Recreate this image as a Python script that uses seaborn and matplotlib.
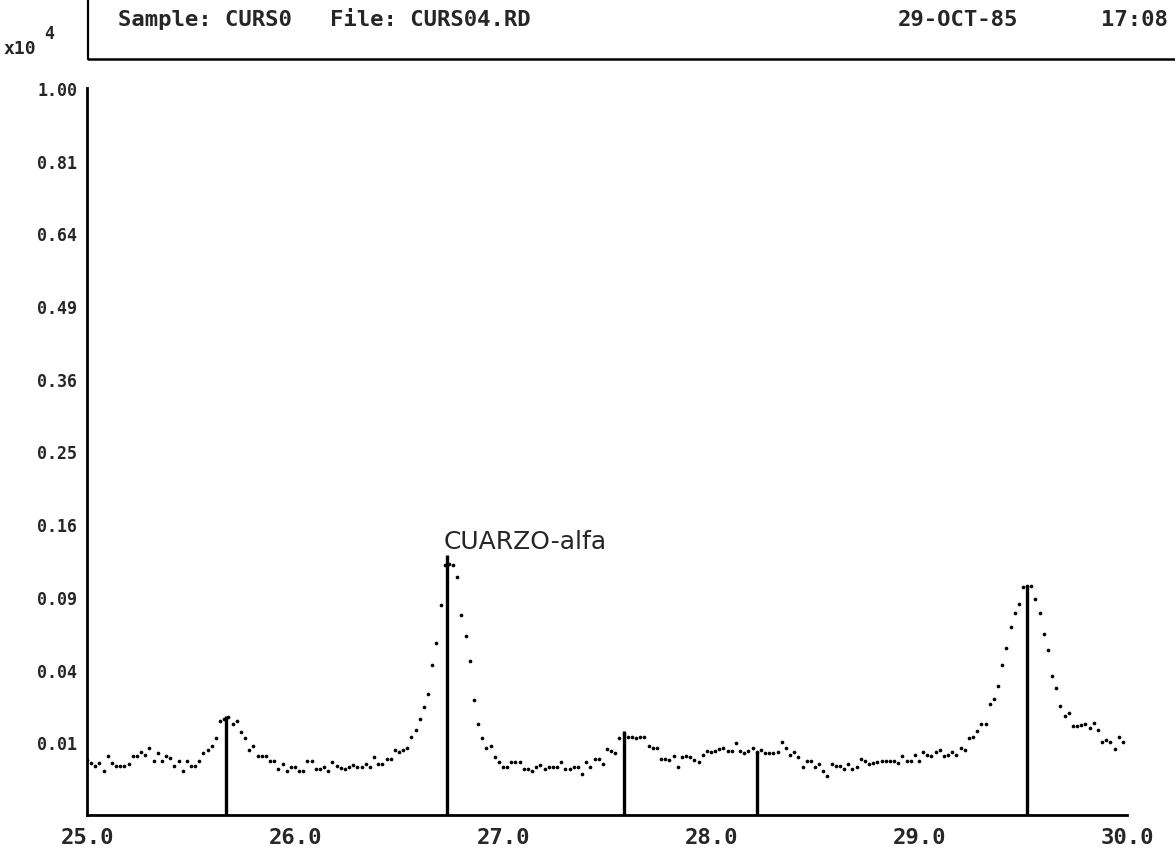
import numpy as np
import seaborn as sns
import matplotlib.pyplot as plt
from matplotlib.lines import Line2D

# Scan: 2-theta from 25.00 in 0.02 steps, counts
two_theta = np.round(25.0 + 0.02 * np.arange(250), 2)
counts = [
    57, 51, 45, 51, 37, 66, 51, 45, 45, 45, 49, 66, 66, 75, 68, 85, 55, 73, 55, 66,
    61, 45, 55, 37, 55, 45, 45, 55, 73, 80, 90, 112, 167, 175, 182, 157, 167, 130, 112, 80,
    90, 66, 66, 66, 55, 55, 40, 49, 37, 44, 44, 37, 37, 55, 55, 40, 40, 44, 37, 53,
    45, 42, 40, 44, 47, 44, 44, 49, 44, 64, 49, 49, 59, 59, 80, 75, 80, 85, 115, 137,
    174, 221, 277, 426, 560, 834, 1183, 1190, 1183, 1072, 757, 606, 449, 250, 157, 112, 85, 90, 64, 53,
    44, 44, 53, 53, 53, 40, 40, 37, 44, 47, 40, 44, 44, 44, 53, 40, 40, 44, 44, 32,
    53, 44, 59, 59, 49, 82, 78, 73, 112, 125, 115, 115, 112, 115, 115, 90, 85, 85, 59, 59,
    57, 66, 44, 64, 66, 64, 57, 53, 68, 78, 75, 78, 82, 85, 78, 78, 98, 78, 73, 78,
    85, 75, 80, 73, 73, 73, 75, 101, 85, 68, 75, 64, 44, 55, 55, 44, 49, 37, 29, 49,
    45, 45, 40, 49, 40, 44, 59, 55, 49, 51, 53, 55, 55, 55, 55, 51, 66, 55, 55, 68,
    55, 75, 68, 66, 75, 80, 66, 68, 75, 68, 85, 80, 112, 115, 134, 157, 157, 233, 255, 315,
    426, 528, 669, 772, 842, 984, 995, 992, 883, 772, 620, 515, 366, 305, 225, 185, 197, 150, 150, 153,
    157, 143, 160, 137, 101, 106, 101, 82, 115, 101,
]

# Peak markers (position, height)
peak_pos = [25.67, 26.73, 27.58, 28.22, 29.52]
peak_height = [184, 1279, 133, 74, 1001]
peak_label = "CUARZO-alfa"

x_ticks = [25.0, 26.0, 27.0, 28.0, 29.0, 30.0]
x_minor = [25.5, 26.5, 27.5, 28.5, 29.5]
y_ticks = [100, 400, 900, 1600, 2500, 3600, 4900, 6400, 8100, 10000]

sample_txt = "Sample: CURS0"
file_txt = "File: CURS04.RD"
date_txt = "29-OCT-85"
time_txt = "17:08"

sns.set_style("white")
plt.rcParams['font.family'] = ['DejaVu Sans Mono', 'DejaVu Sans']

W, H = 1175, 854
fig = plt.figure(figsize=(W / 100, H / 100), dpi=100)


def fx(px):
    return px / W


def fy(py):
    return 1 - py / H


ax = fig.add_axes([fx(87), fy(816), fx(1127) - fx(87), fy(89) - fy(816)])

sns.scatterplot(x=two_theta, y=counts, ax=ax, color='black', s=7,
                linewidth=0, marker='o', legend=False)
ax.vlines(peak_pos, 0, peak_height, color='black', lw=2.4)
# label sits just above the tallest stick
ax.text(peak_pos[1] - 0.015, peak_height[1] * 1.055, peak_label,
        fontsize=18, family='DejaVu Sans', ha='left', va='baseline')

ax.set_yscale('function', functions=(np.sqrt, np.square))
ax.set_ylim(0, 10000)
ax.set_xlim(25.0, 30.0)

ax.set_xticks(x_ticks)
ax.set_xticklabels([f"{v:.1f}" for v in x_ticks], fontsize=16, fontweight='bold')
ax.set_xticks(x_minor, minor=True)
ax.set_yticks(y_ticks)
ax.set_yticklabels([f"{v / 1e4:.2f}" for v in y_ticks], fontsize=12, fontweight='bold')

ax.tick_params(which='both', direction='out', length=7, width=1.6, color='black')
ax.tick_params(axis='x', pad=2)
ax.tick_params(axis='y', length=6, pad=1)
for side in ['top', 'right']:
    ax.spines[side].set_visible(False)
for side in ['left', 'bottom']:
    ax.spines[side].set_linewidth(2.0)
    ax.spines[side].set_color('black')
ax.set_xlabel('')
ax.set_ylabel('')

# x10^4 multiplier
fig.text(fx(4), fy(54), "x10", fontsize=13, fontweight='bold', ha='left', va='baseline')
fig.text(fx(44), fy(39), "4", fontsize=12, fontweight='bold', ha='left', va='baseline')

# header box
fig.add_artist(Line2D([fx(88), fx(88)], [fy(0), fy(60)], color='black', lw=1.6))
fig.add_artist(Line2D([fx(88), fx(1175)], [fy(60), fy(60)], color='black', lw=1.8))
fig.text(fx(118), fy(26), sample_txt, fontsize=16, fontweight='bold', va='baseline')
fig.text(fx(330), fy(26), file_txt, fontsize=16, fontweight='bold', va='baseline')
fig.text(fx(898), fy(26), date_txt, fontsize=16, fontweight='bold', va='baseline')
fig.text(fx(1168), fy(26), time_txt, fontsize=16, fontweight='bold', va='baseline', ha='right')

fig.savefig('out.png', dpi=100, facecolor='white')
